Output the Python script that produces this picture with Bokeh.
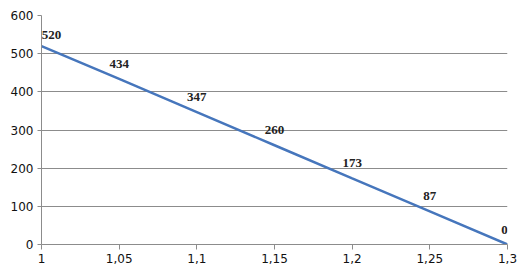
from bokeh.plotting import figure
from bokeh.models import ColumnDataSource, FixedTicker, CustomJSTickFormatter, Range1d
from bokeh.core.properties import value
from bokeh.embed import file_html
from bokeh.resources import INLINE

x_vals = [1.0, 1.05, 1.1, 1.15, 1.2, 1.25, 1.3]
y_vals = [520, 434, 347, 260, 173, 87, 0]
labels = ["520", "434", "347", "260", "173", "87", "0"]
x_ticks = [1.0, 1.05, 1.1, 1.15, 1.2, 1.25, 1.3]
y_ticks = [0, 100, 200, 300, 400, 500, 600]

p = figure(width=531, height=279, output_backend="svg", toolbar_location=None,
           x_range=Range1d(1.0, 1.3), y_range=Range1d(0, 600),
           min_border_left=41, min_border_right=24, min_border_top=15, min_border_bottom=35)
p.outline_line_color = None
p.background_fill_color = "white"
p.border_fill_color = "white"

n = len(x_vals)
xo = [0] * n
yo = [-11] * n
xo[0] = 10
yo[0] = -7
xo[-1] = -3
src = ColumnDataSource(dict(x=x_vals, y=y_vals, label=labels, xo=xo, yo=yo))
p.line("x", "y", source=src, line_color="#4676BC", line_width=2.5)
p.text("x", "y", text="label", source=src, x_offset="xo", y_offset="yo",
       text_align="center", text_baseline="bottom",
       text_font=value("Liberation Serif"), text_font_size="13px",
       text_font_style="bold", text_color="#222222")

p.xgrid.grid_line_color = None
p.ygrid.grid_line_color = "#8c8c8c"
p.ygrid.grid_line_width = 1

p.xaxis.ticker = FixedTicker(ticks=x_ticks)
p.yaxis.ticker = FixedTicker(ticks=y_ticks)
p.xaxis.formatter = CustomJSTickFormatter(code="return Number(tick.toFixed(2)).toString().replace('.', ',');")
p.yaxis.formatter = CustomJSTickFormatter(code="return Number(tick.toFixed(0)).toString();")

for ax in (p.xaxis[0], p.yaxis[0]):
    ax.axis_line_color = "#8c8c8c"
    ax.major_tick_line_color = "#8c8c8c"
    ax.minor_tick_line_color = None
    ax.major_label_text_font = "DejaVu Sans"
    ax.major_label_text_font_size = "12px"
    ax.major_label_text_color = "#111111"
p.xaxis.major_tick_out = 5
p.xaxis.major_tick_in = 0
p.yaxis.major_tick_out = 4
p.yaxis.major_tick_in = 0
p.xaxis.major_label_standoff = 4
p.yaxis.major_label_standoff = 4

open("out.html", "w").write(file_html(p, INLINE))
